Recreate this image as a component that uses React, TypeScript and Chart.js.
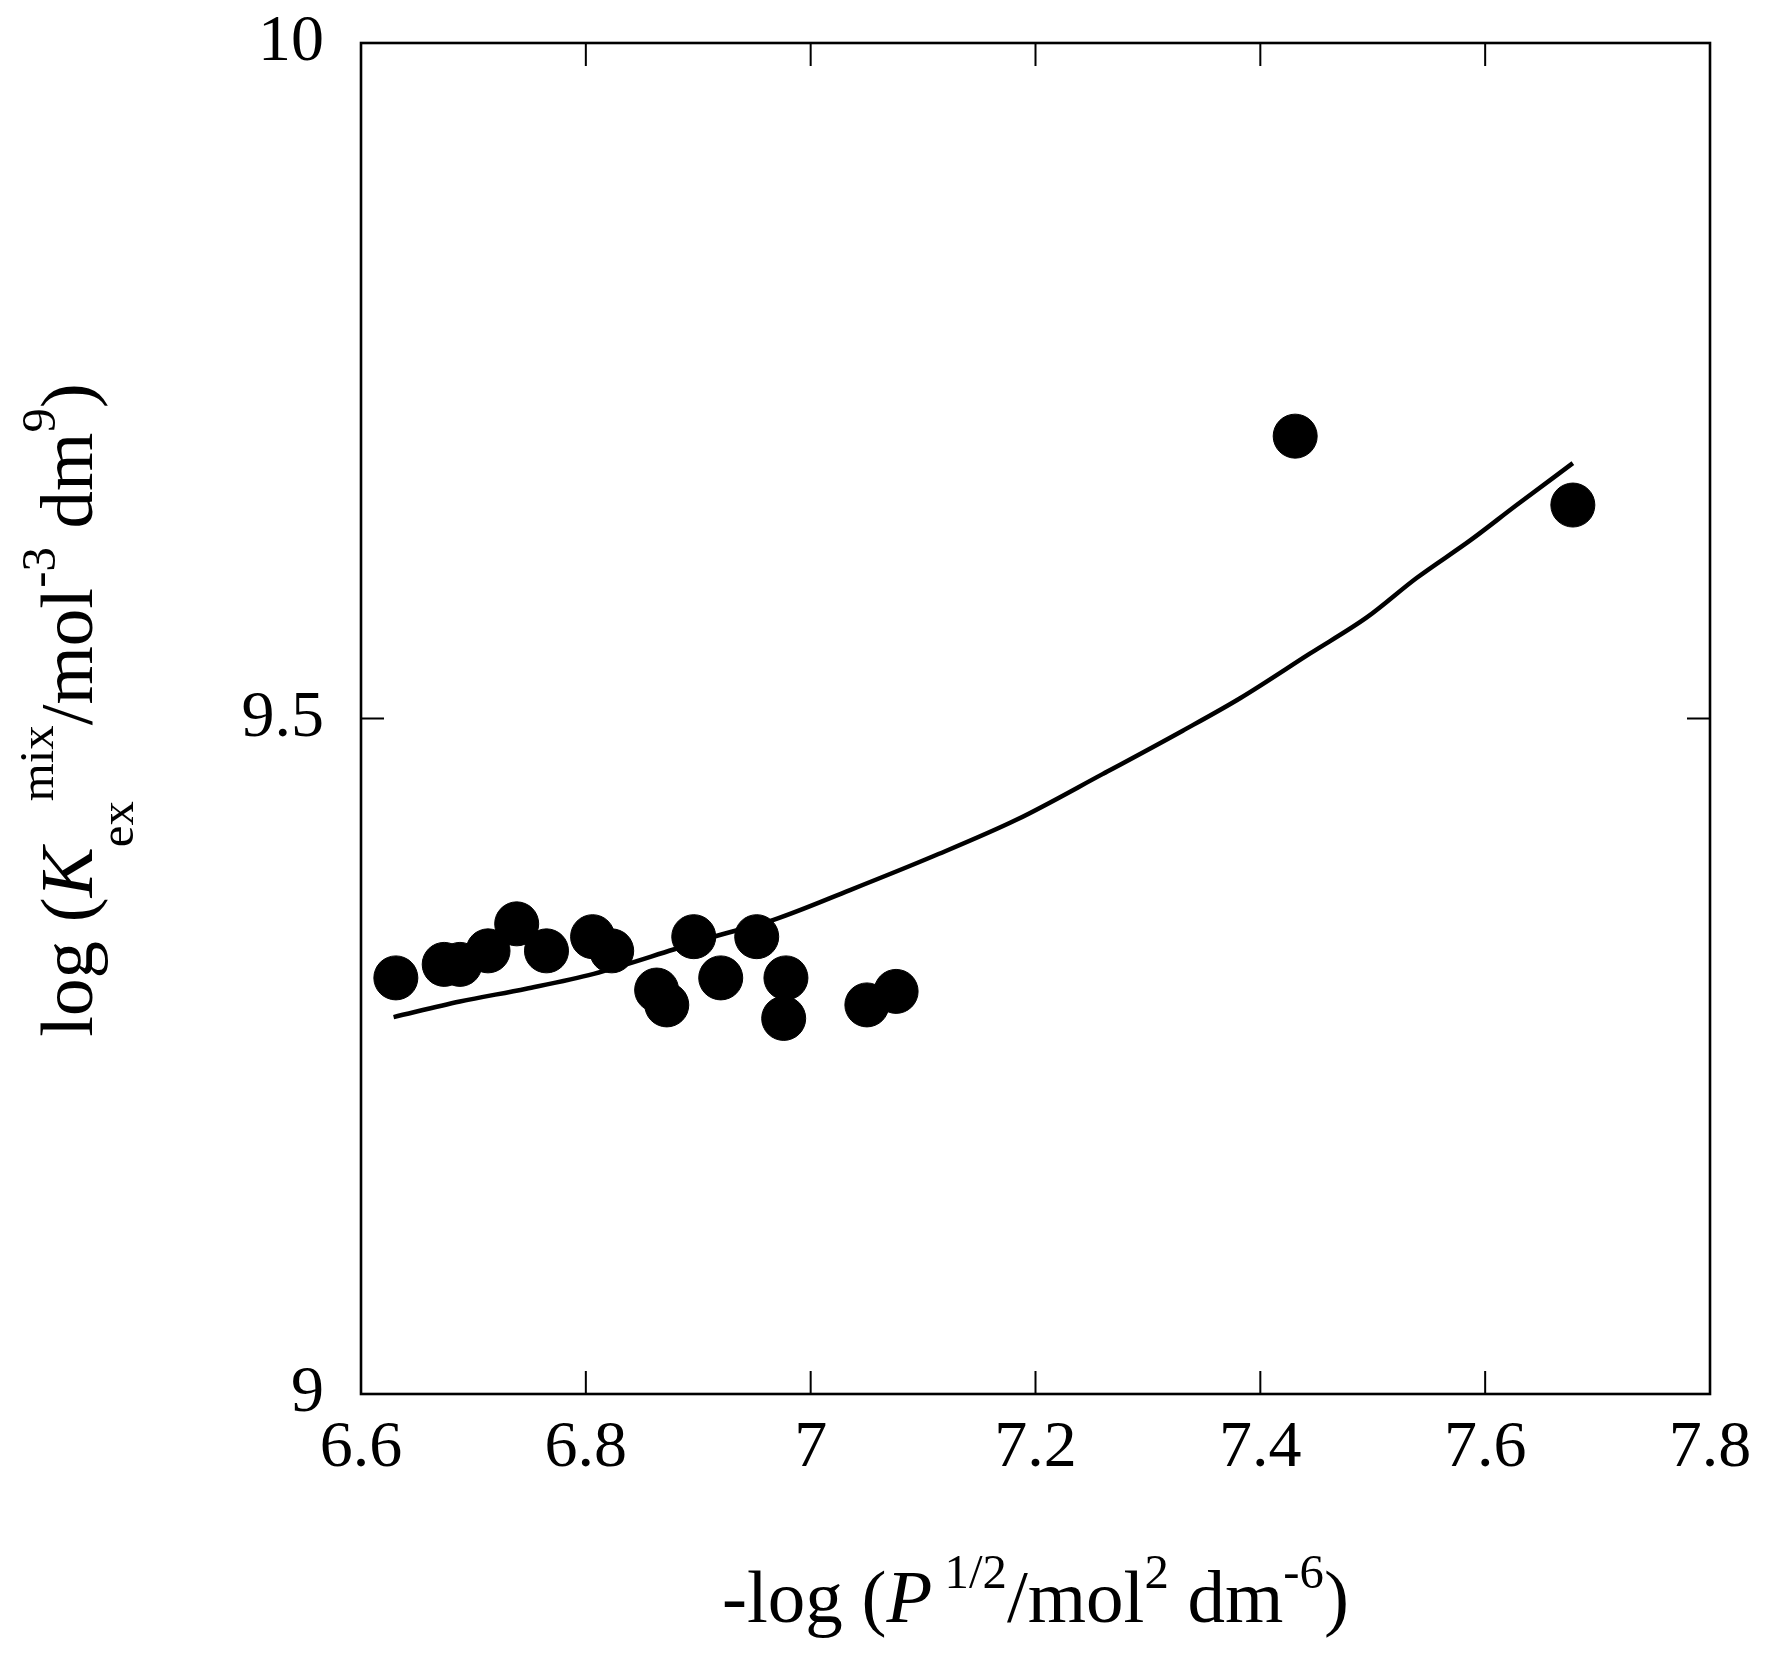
import { useEffect, useRef } from 'react';
import { Chart, registerables } from 'chart.js';

Chart.register(...registerables);

// measured points
const pointX = [6.631, 6.674, 6.688, 6.713, 6.7385, 6.765, 6.806, 6.823, 6.863, 6.872, 6.896, 6.92, 6.952, 6.978, 6.976, 7.05, 7.076, 7.431, 7.678];
const pointY = [9.308, 9.318, 9.318, 9.328, 9.348, 9.328, 9.3385, 9.328, 9.299, 9.288, 9.3385, 9.308, 9.3385, 9.308, 9.278, 9.288, 9.298, 9.709, 9.658];

// fitted curve
const fitX = [6.629, 6.688, 6.747, 6.807, 6.878, 6.916, 6.967, 7.035, 7.109, 7.183, 7.26, 7.331, 7.382, 7.444, 7.495, 7.539, 7.587, 7.628, 7.678];
const fitY = [9.279, 9.2905, 9.3, 9.311, 9.329, 9.339, 9.351, 9.373, 9.398, 9.425, 9.459, 9.491, 9.515, 9.548, 9.575, 9.604, 9.632, 9.658, 9.689];

const xTicks = [6.6, 6.8, 7, 7.2, 7.4, 7.6, 7.8];
const yTicks = [9, 9.5, 10];

const FONT = '"Liberation Serif", "Times New Roman", serif';
const TICK = 23;

type Seg = { t: string; it?: boolean; s?: number; dy?: number };

const xTitle: Seg[] = [
  { t: '-log (' },
  { t: 'P', it: true },
  { t: ' 1/2', s: 0.65, dy: 0.45 },
  { t: '/mol' },
  { t: '2', s: 0.65, dy: 0.45 },
  { t: ' dm' },
  { t: '-6', s: 0.65, dy: 0.45 },
  { t: ')' },
];

const yTitle: Seg[] = [
  { t: 'log (' },
  { t: 'K', it: true },
  { t: 'ex', s: 0.65, dy: -0.55 },
  { t: 'mix', s: 0.65, dy: 0.52 },
  { t: '/mol' },
  { t: '-3', s: 0.65, dy: 0.49 },
  { t: ' dm' },
  { t: '9', s: 0.65, dy: 0.49 },
  { t: ')' },
];

function drawRich(ctx: CanvasRenderingContext2D, segs: Seg[], size: number, cx: number, cy: number, rot: number) {
  ctx.save();
  ctx.translate(cx, cy);
  ctx.rotate(rot);
  ctx.fillStyle = '#000';
  ctx.textAlign = 'left';
  ctx.textBaseline = 'alphabetic';
  const font = (g: Seg) => `${g.it ? 'italic ' : ''}${size * (g.s ?? 1)}px ${FONT}`;
  let total = 0;
  for (const g of segs) {
    ctx.font = font(g);
    total += ctx.measureText(g.t).width;
  }
  let x = -total / 2;
  for (const g of segs) {
    ctx.font = font(g);
    ctx.fillText(g.t, x, -(g.dy ?? 0) * size);
    x += ctx.measureText(g.t).width;
  }
  ctx.restore();
}

const framePlugin = {
  id: 'frame',
  afterDraw(chart: any) {
    const { ctx, chartArea: a, scales } = chart;
    ctx.save();
    ctx.strokeStyle = '#000';
    ctx.lineWidth = 2;
    ctx.beginPath();
    for (const t of scales.x.ticks) {
      const px = scales.x.getPixelForValue(t.value);
      ctx.moveTo(px, a.bottom);
      ctx.lineTo(px, a.bottom - TICK);
      ctx.moveTo(px, a.top);
      ctx.lineTo(px, a.top + TICK);
    }
    for (const t of scales.y.ticks) {
      const py = scales.y.getPixelForValue(t.value);
      ctx.moveTo(a.left, py);
      ctx.lineTo(a.left + TICK, py);
      ctx.moveTo(a.right, py);
      ctx.lineTo(a.right - TICK, py);
    }
    ctx.stroke();
    ctx.lineWidth = 2.6;
    ctx.strokeRect(a.left, a.top, a.right - a.left, a.bottom - a.top);
    ctx.restore();

    drawRich(ctx, xTitle, 75, (a.left + a.right) / 2, 1622, 0);
    drawRich(ctx, yTitle, 75, 92, 710, -Math.PI / 2);
  },
};

export default function App() {
  const canvasRef = useRef<HTMLCanvasElement>(null);
  const chartRef = useRef<Chart | null>(null);

  useEffect(() => {
    if (!canvasRef.current) return;
    if (chartRef.current) chartRef.current.destroy();

    const tickFont = { family: FONT, size: 66 };

    chartRef.current = new Chart(canvasRef.current, {
      type: 'scatter',
      data: {
        datasets: [
          {
            label: 'fit',
            data: fitX.map((x, i) => ({ x, y: fitY[i] })),
            showLine: true,
            borderColor: '#000',
            borderWidth: 4.5,
            pointRadius: 0,
            cubicInterpolationMode: 'monotone',
            fill: false,
          },
          {
            label: 'data',
            data: pointX.map((x, i) => ({ x, y: pointY[i] })),
            backgroundColor: '#000',
            borderColor: '#000',
            borderWidth: 1,
            pointRadius: 22,
          },
        ],
      },
      options: {
        responsive: false,
        animation: false,
        devicePixelRatio: 1,
        layout: { padding: { left: 0, top: 43, right: 59, bottom: 0 } },
        plugins: {
          legend: { display: false },
          tooltip: { enabled: false },
        },
        scales: {
          x: {
            type: 'linear',
            min: 6.6,
            max: 7.8,
            grid: { display: false, drawTicks: false },
            border: { display: false },
            afterBuildTicks: (s: any) => {
              s.ticks = xTicks.map((v) => ({ value: v }));
            },
            afterFit: (s: any) => {
              s.height = 265;
              s.paddingLeft = 0;
              s.paddingRight = 0;
            },
            ticks: {
              color: '#000',
              font: tickFont,
              padding: 15,
              maxRotation: 0,
              autoSkip: false,
              callback: (v: any) => String(v),
            },
          },
          y: {
            type: 'linear',
            min: 9,
            max: 10,
            grid: { display: false, drawTicks: false },
            border: { display: false },
            afterBuildTicks: (s: any) => {
              s.ticks = yTicks.map((v) => ({ value: v }));
            },
            afterFit: (s: any) => {
              s.width = 361;
              s.paddingTop = 0;
              s.paddingBottom = 0;
            },
            ticks: {
              color: '#000',
              font: tickFont,
              padding: 37,
              autoSkip: false,
              callback: (v: any) => String(v),
            },
          },
        },
      },
      plugins: [framePlugin],
    });

    return () => {
      if (chartRef.current) {
        chartRef.current.destroy();
        chartRef.current = null;
      }
    };
  }, []);

  return (
    <div style={{ position: 'absolute', left: 0, top: 0, width: 1769, height: 1659, background: '#fff' }}>
      <canvas ref={canvasRef} width={1769} height={1659} style={{ display: 'block' }} />
    </div>
  );
}
